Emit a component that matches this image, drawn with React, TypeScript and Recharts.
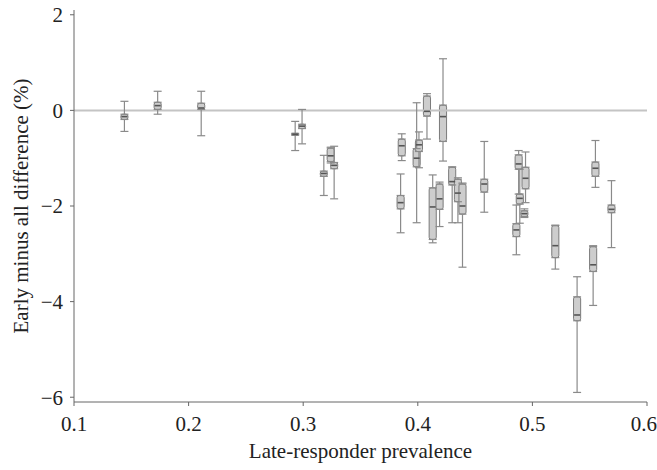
import {
  ComposedChart,
  ErrorBar,
  ReferenceArea,
  ReferenceLine,
  Scatter,
  XAxis,
  YAxis,
} from "recharts";

// late-responder prevalence of each scenario
const prevalence = [
  0.144, 0.173, 0.211, 0.293, 0.299, 0.318, 0.324, 0.327,
  0.386, 0.385, 0.399, 0.401, 0.408, 0.422, 0.413, 0.419,
  0.43, 0.435, 0.439, 0.458, 0.488, 0.494, 0.489, 0.493,
  0.486, 0.52, 0.539, 0.553, 0.555, 0.569,
];
const whiskerLow = [
  -0.44, -0.08, -0.53, -0.84, -0.7, -1.78, -1.1, -1.85,
  -1.05, -2.56, -2.35, -1.2, -0.6, -1.06, -2.77, -2.43,
  -2.35, -2.35, -3.28, -2.13, -1.75, -1.93, -2.36, -2.24,
  -3.02, -3.32, -5.9, -4.08, -1.61, -2.87,
];
const q1 = [
  -0.19, 0.02, 0.02, -0.52, -0.38, -1.38, -1.07, -1.22,
  -0.95, -2.06, -1.18, -0.86, -0.12, -0.65, -2.7, -2.07,
  -1.56, -1.91, -2.17, -1.71, -1.23, -1.64, -1.96, -2.22,
  -2.64, -3.08, -4.4, -3.37, -1.38, -2.14,
];
const median = [
  -0.13, 0.1, 0.05, -0.5, -0.33, -1.32, -0.95, -1.15,
  -0.74, -1.93, -1.0, -0.72, -0.02, -0.13, -2.02, -1.85,
  -1.49, -1.73, -2.0, -1.54, -1.12, -1.42, -1.84, -2.16,
  -2.5, -2.83, -4.28, -3.23, -1.21, -2.07,
];
const q3 = [
  -0.08, 0.17, 0.15, -0.48, -0.29, -1.27, -0.79, -1.09,
  -0.6, -1.78, -0.8, -0.62, 0.3, 0.11, -1.62, -1.54,
  -1.19, -1.44, -1.54, -1.44, -0.93, -1.19, -1.75, -2.1,
  -2.37, -2.41, -3.9, -2.85, -1.08, -1.98,
];
const whiskerHigh = [
  0.19, 0.4, 0.4, -0.23, 0.02, -0.94, -0.77, -0.75,
  -0.49, -1.33, 0.16, -0.45, 0.35, 1.08, -1.35, -1.5,
  -1.18, -1.41, -1.52, -0.65, -0.84, -0.87, -1.23, -2.06,
  -1.98, -2.4, -3.48, -2.83, -0.63, -1.47,
];

const xTicks = [0.1, 0.2, 0.3, 0.4, 0.5, 0.6];
const yTicks = [-6, -4, -2, 0, 2];

const boxes = prevalence.map((x, i) => ({
  x,
  q1: q1[i],
  q3: q3[i],
  median: median[i],
  lowErr: [q1[i] - whiskerLow[i], 0],
  highErr: [0, whiskerHigh[i] - q3[i]],
}));

const HALF_BOX = 0.0031; // half box width in x units (~7px)
const font = "'Liberation Serif', 'DejaVu Serif', serif";
const axisColor = "#666";
const boxStroke = "#7a7a7a";
const boxFill = "#cdcdcd";
const textColor = "#222";

const fmt = (v: number) => (v < 0 ? `\u2212${Math.abs(v)}` : `${v}`);

export default function App() {
  return (
    <div style={{ position: "absolute", left: 0, top: 0, fontFamily: font }}>
      <ComposedChart
        width={657}
        height={470}
        data={boxes}
        margin={{ top: 10, right: 10, left: 40, bottom: 8 }}
      >
        <XAxis
          type="number"
          dataKey="x"
          domain={[0.1, 0.6]}
          ticks={xTicks}
          tickFormatter={(v) => `${v}`}
          allowDataOverflow
          stroke={axisColor}
          tickSize={4}
          tickMargin={10}
          height={60}
          tick={{ fill: textColor, fontSize: 21, fontFamily: font }}
          label={{
            value: "Late-responder prevalence",
            position: "insideBottom",
            offset: 4,
            fill: textColor,
            fontSize: 21,
            fontFamily: font,
          }}
        />
        <YAxis
          type="number"
          domain={[-6.1, 2.1]}
          ticks={yTicks}
          tickFormatter={fmt}
          allowDataOverflow
          stroke={axisColor}
          tickSize={4}
          tickMargin={7}
          width={34}
          tick={{ fill: textColor, fontSize: 21, fontFamily: font }}
          label={{
            value: "Early minus all difference (%)",
            angle: -90,
            position: "insideLeft",
            offset: -19,
            style: { textAnchor: "middle" },
            fill: textColor,
            fontSize: 21,
            fontFamily: font,
          }}
        />
        <ReferenceLine y={0} stroke="#c4c4c4" strokeWidth={2} />
        {/* lower whiskers: q1 down to min */}
        <Scatter dataKey="q1" shape={() => <g />} isAnimationActive={false}>
          <ErrorBar
            dataKey="lowErr"
            direction="y"
            width={4}
            stroke="#8a8a8a"
            strokeWidth={1.2}
            isAnimationActive={false}
          />
        </Scatter>
        {/* upper whiskers: q3 up to max */}
        <Scatter dataKey="q3" shape={() => <g />} isAnimationActive={false}>
          <ErrorBar
            dataKey="highErr"
            direction="y"
            width={4}
            stroke="#8a8a8a"
            strokeWidth={1.2}
            isAnimationActive={false}
          />
        </Scatter>
        {boxes.map((b, i) => (
          <ReferenceArea
            key={i}
            x1={b.x - HALF_BOX}
            x2={b.x + HALF_BOX}
            y1={b.q1}
            y2={b.q3}
            fill={boxFill}
            fillOpacity={1}
            stroke={boxStroke}
            strokeWidth={1}
            radius={2}
            ifOverflow="visible"
          />
        ))}
        <Scatter
          dataKey="median"
          isAnimationActive={false}
          shape={(p: any) => (
            <line
              x1={p.cx - 3}
              x2={p.cx + 3}
              y1={p.cy}
              y2={p.cy}
              stroke="#555"
              strokeWidth={1.6}
            />
          )}
        />
      </ComposedChart>
    </div>
  );
}
